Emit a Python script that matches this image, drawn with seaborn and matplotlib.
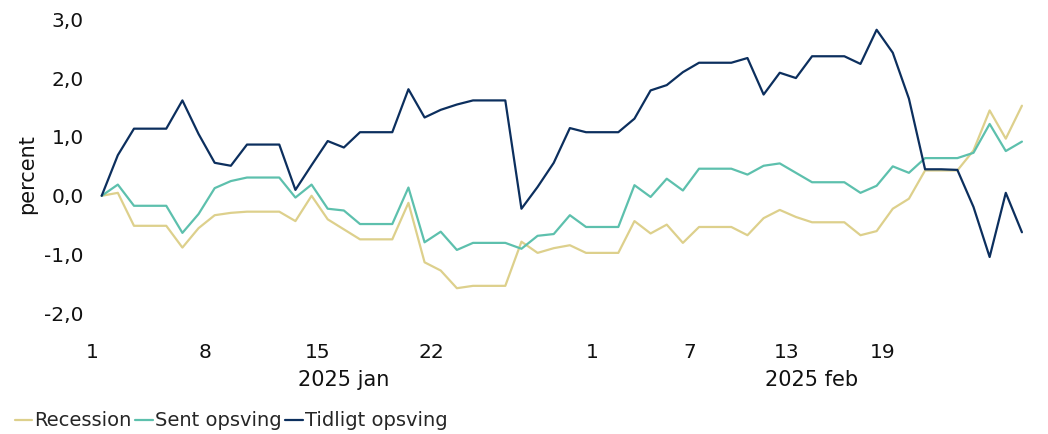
import pandas as pd
import numpy as np
import matplotlib
matplotlib.use("Agg")
import matplotlib.pyplot as plt
import matplotlib.dates as mdates
import seaborn as sns

# daily values, 1 jan - 27 feb 2025 (weekends carried forward)
dates = pd.date_range("2025-01-01", "2025-02-27", freq="D")

recession = [0.00, 0.05, -0.51, -0.51, -0.51, -0.88, -0.55, -0.33, -0.29, -0.27,
             -0.27, -0.27, -0.43, 0.00, -0.40, -0.57, -0.74, -0.74, -0.74, -0.12,
             -1.13, -1.27, -1.57, -1.53, -1.53, -1.53, -0.78, -0.97, -0.89, -0.84,
             -0.97, -0.97, -0.97, -0.43, -0.64, -0.49, -0.80, -0.53, -0.53, -0.53,
             -0.67, -0.38, -0.24, -0.36, -0.45, -0.45, -0.45, -0.67, -0.60, -0.22,
             -0.05, 0.43, 0.43, 0.43, 0.77, 1.45, 0.97, 1.53]
sent_opsving = [0.00, 0.19, -0.17, -0.17, -0.17, -0.63, -0.31, 0.13, 0.25, 0.31,
                0.31, 0.31, -0.03, 0.19, -0.22, -0.25, -0.48, -0.48, -0.48, 0.14,
                -0.79, -0.61, -0.92, -0.80, -0.80, -0.80, -0.90, -0.68, -0.65, -0.33,
                -0.53, -0.53, -0.53, 0.18, -0.02, 0.29, 0.09, 0.46, 0.46, 0.46,
                0.36, 0.51, 0.55, 0.39, 0.23, 0.23, 0.23, 0.05, 0.17, 0.50,
                0.39, 0.64, 0.64, 0.64, 0.73, 1.22, 0.76, 0.92]
tidligt_opsving = [0.00, 0.69, 1.14, 1.14, 1.14, 1.62, 1.05, 0.56, 0.51, 0.87,
                   0.87, 0.87, 0.10, 0.52, 0.93, 0.82, 1.08, 1.08, 1.08, 1.81,
                   1.33, 1.46, 1.55, 1.62, 1.62, 1.62, -0.22, 0.15, 0.56, 1.15,
                   1.08, 1.08, 1.08, 1.31, 1.79, 1.88, 2.10, 2.26, 2.26, 2.26,
                   2.34, 1.72, 2.09, 2.00, 2.37, 2.37, 2.37, 2.24, 2.82, 2.43,
                   1.65, 0.45, 0.45, 0.44, -0.19, -1.04, 0.05, -0.62]

series_names = ["Recession", "Sent opsving", "Tidligt opsving"]
colors = ["#DDD08C", "#5DC0AD", "#0C2F5E"]
tick_dates = ["2025-01-01", "2025-01-08", "2025-01-15", "2025-01-22",
              "2025-02-01", "2025-02-07", "2025-02-13", "2025-02-19"]
tick_labels = ["1", "8", "15", "22", "1", "7", "13", "19"]
month_labels = ["2025 jan", "2025 feb"]

df = pd.DataFrame({"date": dates, "Recession": recession,
                   "Sent opsving": sent_opsving, "Tidligt opsving": tidligt_opsving})
long_df = df.melt(id_vars="date", var_name="serie", value_name="value")
long_df["x"] = mdates.date2num(long_df["date"])

sns.set_style("white")
plt.rcParams["font.family"] = ["DejaVu Sans"]

fig = plt.figure(figsize=(10.48, 4.34), dpi=100)
ax = fig.add_axes([92 / 1048, 1 - 330 / 434, (1030 - 92) / 1048, (330 - 18) / 434])

sns.lineplot(data=long_df, x="x", y="value", hue="serie", hue_order=series_names,
             palette=colors, linewidth=1.6, ax=ax, legend=False)

x0 = mdates.date2num(dates[0])
ax.set_xlim(x0 - 0.5, mdates.date2num(dates[-1]) + 0.5)
ax.set_ylim(-2.28, 3.02)

ax.set_yticks([-2, -1, 0, 1, 2, 3])
ax.set_yticklabels([f"{v:.1f}".replace(".", ",") for v in [-2, -1, 0, 1, 2, 3]],
                   fontsize=14.5, color="#111111")
ax.set_xticks(mdates.date2num(pd.to_datetime(tick_dates)) - 0.6)
ax.set_xticklabels(tick_labels, fontsize=14.5, color="#111111")
ax.tick_params(axis="both", length=0)
ax.tick_params(axis="x", pad=9)
ax.tick_params(axis="y", pad=6)
ax.set_xlabel("")
ax.set_ylabel("percent", fontsize=15, color="#111111", labelpad=5)

for s in ax.spines.values():
    s.set_visible(False)

# month labels under the day ticks
month_mid = [x0 + 15, x0 + 44]
for xm, lab in zip(month_mid, month_labels):
    ax.text(xm, -50 / 312, lab, transform=ax.get_xaxis_transform(),
            ha="center", va="center", fontsize=15, color="#111111")

handles = [plt.Line2D([0], [0], color=c, lw=1.6) for c in colors]
fig.legend(handles, series_names, loc="center left", bbox_to_anchor=(0.014, 13 / 434),
           ncol=3, frameon=False, fontsize=14, handlelength=0.9, handletextpad=0.1,
           columnspacing=0.2, borderaxespad=0, borderpad=0)

fig.savefig("out.png", dpi=100)
